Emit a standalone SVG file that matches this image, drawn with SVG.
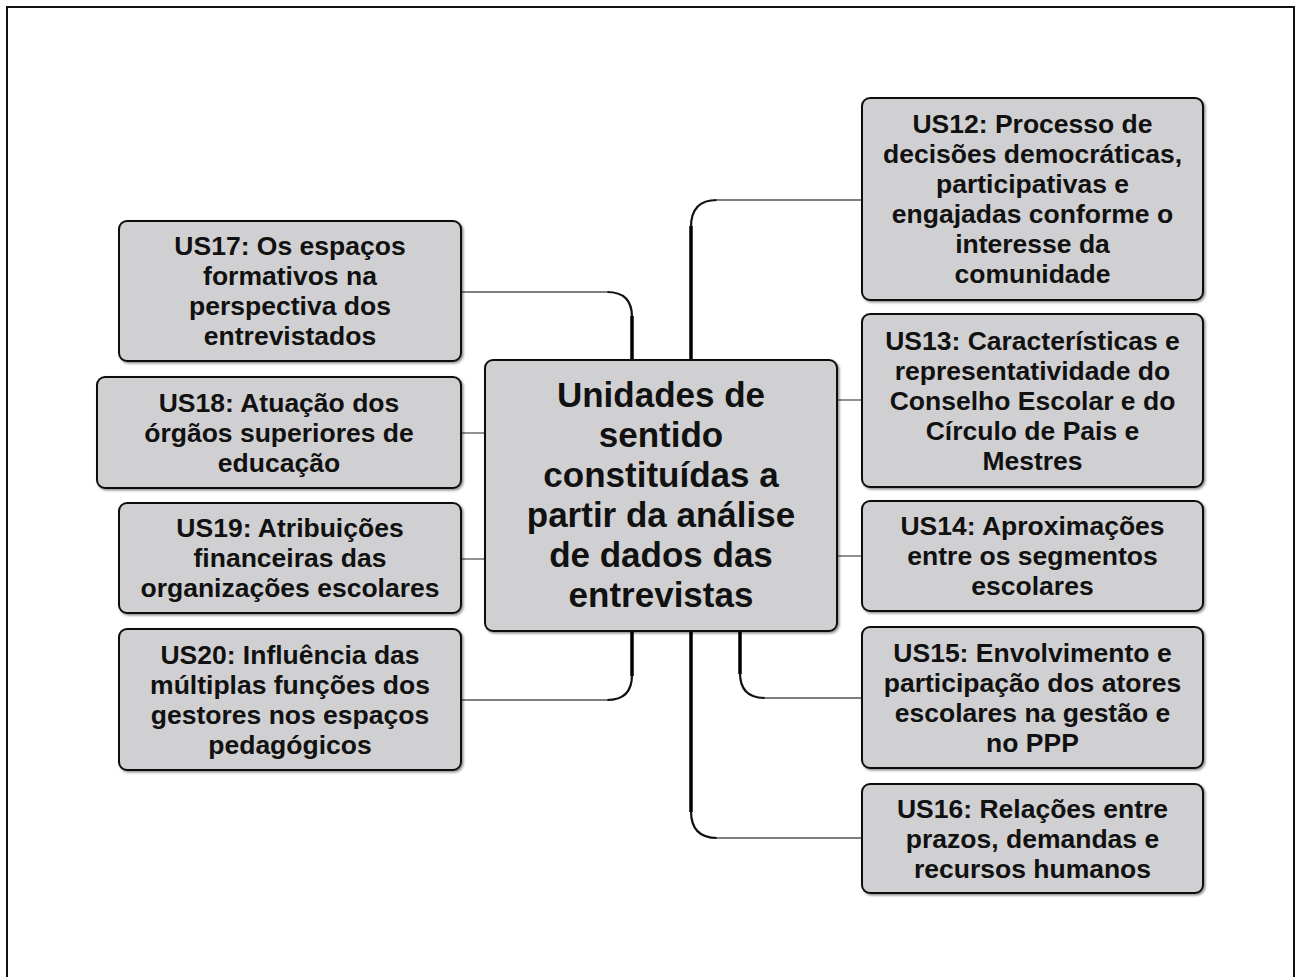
<svg xmlns="http://www.w3.org/2000/svg" width="1302" height="977" viewBox="0 0 1302 977">
  <defs>
    <filter id="shadow" x="-5%" y="-5%" width="110%" height="115%">
      <feDropShadow dx="1.5" dy="1.5" stdDeviation="1" flood-color="#000" flood-opacity="0.45"/>
    </filter>
    <style>
      .box { fill: #d0d0d2; stroke: #111; stroke-width: 2; filter: url(#shadow); }
      text { font-family: "Liberation Sans", Arial, sans-serif; font-weight: bold; font-size: 26.5px; fill: #111; text-anchor: middle; }
      .hub text { font-size: 35px; }
      .trunk { fill: none; stroke: #000; stroke-width: 3.5; }
      .bend { fill: none; stroke: #111; stroke-width: 2.2; }
      .twig { fill: none; stroke: #555; stroke-width: 1.3; }
    </style>
  </defs>

  <rect x="0" y="0" width="1302" height="977" fill="#fff"/>
  <!-- frame -->
  <rect x="7" y="7" width="1287" height="1010" fill="none" stroke="#111" stroke-width="2"/>

  <!-- connectors -->
  <g id="connectors">
    <!-- US17 -->
    <path class="trunk" d="M632 361 V316"/>
    <path class="bend" d="M632 317 Q632 292 607 292"/>
    <path class="twig" d="M608 292 H461"/>
    <!-- US12 -->
    <path class="trunk" d="M691 361 V226"/>
    <path class="bend" d="M691 227 Q691 200 717 200"/>
    <path class="twig" d="M716 200 H862"/>
    <!-- US20 -->
    <path class="trunk" d="M632 631 V676"/>
    <path class="bend" d="M632 675 Q632 700 607 700"/>
    <path class="twig" d="M608 700 H461"/>
    <!-- US15 -->
    <path class="trunk" d="M740 631 V674"/>
    <path class="bend" d="M740 673 Q740 698 765 698"/>
    <path class="twig" d="M764 698 H862"/>
    <!-- US16 -->
    <path class="trunk" d="M691 631 V812"/>
    <path class="bend" d="M691 811 Q691 838 717 838"/>
    <path class="twig" d="M716 838 H862"/>
    <!-- straight side links -->
    <path class="twig" d="M461 433 H485"/>
    <path class="twig" d="M461 559 H485"/>
    <path class="twig" d="M837 400 H862"/>
    <path class="twig" d="M837 556 H862"/>
  </g>

  <!-- central node -->
  <g id="hub" class="hub">
    <rect class="box" x="485" y="360" width="352" height="271" rx="8"/>
    <text x="661" y="407">Unidades de</text>
    <text x="661" y="447">sentido</text>
    <text x="661" y="487">constituídas a</text>
    <text x="661" y="527">partir da análise</text>
    <text x="661" y="567">de dados das</text>
    <text x="661" y="607">entrevistas</text>
  </g>

  <!-- left column -->
  <g id="us17">
    <rect class="box" x="119" y="221" width="342" height="140" rx="8"/>
    <text x="290" y="255">US17: Os espaços</text>
    <text x="290" y="285">formativos na</text>
    <text x="290" y="315">perspectiva dos</text>
    <text x="290" y="345">entrevistados</text>
  </g>
  <g id="us18">
    <rect class="box" x="97" y="377" width="364" height="111" rx="8"/>
    <text x="279" y="411.5">US18: Atuação dos</text>
    <text x="279" y="441.5">órgãos superiores de</text>
    <text x="279" y="471.5">educação</text>
  </g>
  <g id="us19">
    <rect class="box" x="119" y="503" width="342" height="110" rx="8"/>
    <text x="290" y="537">US19: Atribuições</text>
    <text x="290" y="567">financeiras das</text>
    <text x="290" y="597">organizações escolares</text>
  </g>
  <g id="us20">
    <rect class="box" x="119" y="629" width="342" height="141" rx="8"/>
    <text x="290" y="663.5">US20: Influência das</text>
    <text x="290" y="693.5">múltiplas funções dos</text>
    <text x="290" y="723.5">gestores nos espaços</text>
    <text x="290" y="753.5">pedagógicos</text>
  </g>

  <!-- right column -->
  <g id="us12">
    <rect class="box" x="862" y="98" width="341" height="202" rx="8"/>
    <text x="1032.5" y="133">US12: Processo de</text>
    <text x="1032.5" y="163">decisões democráticas,</text>
    <text x="1032.5" y="193">participativas e</text>
    <text x="1032.5" y="223">engajadas conforme o</text>
    <text x="1032.5" y="253">interesse da</text>
    <text x="1032.5" y="283">comunidade</text>
  </g>
  <g id="us13">
    <rect class="box" x="862" y="314" width="341" height="173" rx="8"/>
    <text x="1032.5" y="349.5">US13: Características e</text>
    <text x="1032.5" y="379.5">representatividade do</text>
    <text x="1032.5" y="409.5">Conselho Escolar e do</text>
    <text x="1032.5" y="439.5">Círculo de Pais e</text>
    <text x="1032.5" y="469.5">Mestres</text>
  </g>
  <g id="us14">
    <rect class="box" x="862" y="501" width="341" height="110" rx="8"/>
    <text x="1032.5" y="535">US14: Aproximações</text>
    <text x="1032.5" y="565">entre os segmentos</text>
    <text x="1032.5" y="595">escolares</text>
  </g>
  <g id="us15">
    <rect class="box" x="862" y="627" width="341" height="141" rx="8"/>
    <text x="1032.5" y="661.5">US15: Envolvimento e</text>
    <text x="1032.5" y="691.5">participação dos atores</text>
    <text x="1032.5" y="721.5">escolares na gestão e</text>
    <text x="1032.5" y="751.5">no PPP</text>
  </g>
  <g id="us16">
    <rect class="box" x="862" y="784" width="341" height="109" rx="8"/>
    <text x="1032.5" y="817.5">US16: Relações entre</text>
    <text x="1032.5" y="847.5">prazos, demandas e</text>
    <text x="1032.5" y="877.5">recursos humanos</text>
  </g>
</svg>
